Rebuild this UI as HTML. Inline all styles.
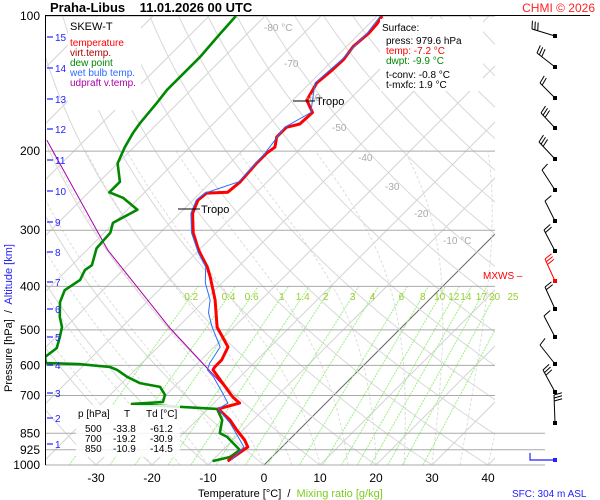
<!DOCTYPE html>
<html><head><meta charset="utf-8"><style>
body{margin:0;background:#fff;}
svg{display:block;font-family:"Liberation Sans",sans-serif;}
</style></head><body>
<svg id="c" width="600" height="500" xmlns="http://www.w3.org/2000/svg">
<defs><clipPath id="pc"><rect x="45" y="16" width="450" height="449"/></clipPath></defs>
<rect width="600" height="500" fill="#fff"/>
<g id="grid" clip-path="url(#pc)"></g>
<g id="isobars"></g>
<g id="series" clip-path="url(#pc)"></g>
<g id="labels"></g>
<g id="barbs"></g>
<g>
<line x1="45" y1="15.5" x2="590" y2="15.5" stroke="#000"/>
<line x1="45.5" y1="16" x2="45.5" y2="465" stroke="#000"/>
<polyline points="530,453 530,460 555,460" fill="none" stroke="#22f" stroke-width="1.2"/>
<rect x="553" y="458" width="4" height="4" fill="#22f"/>
<line x1="178" y1="209" x2="200" y2="209" stroke="#000"/><text x="201" y="213" font-size="11">Tropo</text>
<line x1="293" y1="101" x2="315" y2="101" stroke="#000"/><text x="316" y="105" font-size="11">Tropo</text>
</g>
<g><text x="50" y="12" font-size="13" font-weight="bold" xml:space="preserve">Praha-Libus    11.01.2026 00 UTC</text></g>
<text x="595" y="12" font-size="12" fill="#f22" text-anchor="end">CHMI © 2026</text>
<g>
<rect x="68" y="17" width="73" height="93" fill="#fff"/>
<text x="70" y="30" font-size="11">SKEW-T</text>
<text x="70" y="46" font-size="10" fill="#f00">temperature</text>
<text x="70" y="56" font-size="10" fill="#a00">virt.temp.</text>
<text x="70" y="66" font-size="10" fill="#080">dew point</text>
<text x="70" y="76" font-size="10" fill="#2a6cff">wet bulb temp.</text>
<text x="70" y="86" font-size="10" fill="#a0a">udpraft v.temp.</text>
</g>
<g>
<rect x="380" y="19" width="103" height="72" fill="#fff"/>
<text x="382" y="31" font-size="10">Surface:</text>
<text x="386" y="44" font-size="10">press: 979.6 hPa</text>
<text x="386" y="54" font-size="10" fill="#f00">temp: -7.2 °C</text>
<text x="386" y="64" font-size="10" fill="#080">dwpt: -9.9 °C</text>
<text x="386" y="78" font-size="10">t-conv: -0.8 °C</text>
<text x="386" y="88" font-size="10">t-mxfc: 1.9 °C</text>
</g>
<g>
<rect x="76" y="405" width="104" height="52" fill="#fff" opacity="0.85"/>
<text x="78" y="417" font-size="10">p [hPa]</text><text x="124" y="417" font-size="10">T</text><text x="146" y="417" font-size="10">Td [°C]</text>
<text x="85" y="432" font-size="10">500</text><text x="113" y="432" font-size="10">-33.8</text><text x="150" y="432" font-size="10">-61.2</text>
<text x="85" y="442" font-size="10">700</text><text x="113" y="442" font-size="10">-19.2</text><text x="150" y="442" font-size="10">-30.9</text>
<text x="85" y="452" font-size="10">850</text><text x="113" y="452" font-size="10">-10.9</text><text x="150" y="452" font-size="10">-14.5</text>
</g>
<text x="483" y="279" font-size="10" fill="#f00">MXWS –</text>
<text x="198" y="497" font-size="11" xml:space="preserve">Temperature [°C]  /  <tspan fill="#7ecb20">Mixing ratio [g/kg]</tspan></text>
<text x="512" y="497" font-size="10" fill="#22f">SFC: 304 m ASL</text>
<text transform="translate(12,392) rotate(-90)" font-size="11" xml:space="preserve">Pressure [hPa]  /  <tspan fill="#22f">Altitude [km]</tspan></text>
</svg>
<script>
const tempP=[980,912,880,836,794,750,728,706,614,605,584,546,493,429,381,362,337,329,304,275,257,248,247,234,213,202,196,186,177,174,164,154,141,133,125,117,109,104,100];
const tempT=[-7.2,-6.1,-7.9,-11.1,-14.1,-18.2,-15.4,-17.7,-26.1,-26.3,-26.3,-27.5,-33.0,-38.2,-43.2,-45.5,-49.3,-50.5,-54.1,-57.7,-59.1,-58.8,-55.2,-54.8,-55.2,-55.2,-54.8,-56.3,-56.3,-54.5,-54.3,-57.5,-58.8,-58.4,-58.2,-58.8,-58.4,-58.6,-59.1];
const dewP=[980,960,926,866,849,794,750,735,731,724,698,670,657,636,614,605,596,593,575,549,519,493,468,434,408,387,368,359,337,329,304,289,270,254,247,234,213,196,182,173,156,146,137,123,111,100];
const dewT=[-9.9,-7.5,-7.0,-11.6,-13.6,-15.5,-18.4,-31.6,-34.5,-29.3,-30.2,-32.5,-36.8,-40.2,-43.2,-45,-51.1,-57.1,-58.4,-57.9,-59.3,-60.7,-62.9,-65.5,-66.8,-65.9,-66.8,-66.4,-68.0,-68.6,-68.9,-70.2,-68.2,-72.9,-76.3,-76.3,-80,-81.6,-82.7,-83.2,-83.8,-84.3,-84.3,-84.3,-84.8,-85.2];
const wbP=[975,912,857,806,750,728,692,636,614,593,546,493,458,429,393,362,337,304,275,257,248,234,202,177,164,141,125,109,100];
const wbT=[-6.8,-6.8,-10.2,-13.6,-18.2,-17.5,-20.2,-24.8,-27.1,-27.9,-28.9,-33.9,-37.1,-39.1,-43.0,-45.8,-49.6,-54.4,-58.0,-59.4,-59.1,-55.1,-55.5,-56.6,-54.6,-59.1,-58.5,-58.7,-59.4];
const parP=[189,332,495,608,728];
const parT=[-96.8,-66.3,-41.3,-27.5,-15.4];
const pressureTicks=[100,200,300,400,500,600,700,850,925,1000];
const tempTicks=[-30,-20,-10,0,10,20,30,40];
const mixRatios=[0.2,0.4,0.6,1,1.4,2,3,4,6,8,10,12,14,17,20,25];
const altKm=[15,14,13,12,11,10,9,8,7,6,5,4,3,2,1];
const altY=[37,68,99,129,160,191,222,252,282,309,337,365,393,418,444];
const NS='http://www.w3.org/2000/svg';
function Y(p){return 16+449*Math.log10(p/100);}
function X(t,p){return 264+5.6*t+(465-Y(p));}
function mk(tag,attrs,parent){const e=document.createElementNS(NS,tag);for(const k in attrs)e.setAttribute(k,attrs[k]);parent.appendChild(e);return e;}
const grid=document.getElementById('grid'),iso=document.getElementById('isobars'),ser=document.getElementById('series'),lab=document.getElementById('labels'),brb=document.getElementById('barbs');
function pathFrom(ps,ts){return ps.map((p,i)=>(i?'L':'M')+X(ts[i],p).toFixed(1)+','+Y(p).toFixed(1)).join('');}
for(let t=-140;t<=40;t+=10){const e=mk('line',{x1:X(t,1000),y1:465,x2:X(t,100),y2:16,stroke:t===0?'#666':'#d4d4d4','stroke-width':1},grid);

}
for(let th=-40;th<=200;th+=10){let d='';for(let p=1000;p>=100;p-=10){const T=(th+273.15)*Math.pow(p/1000,0.2857)-273.15;d+=(p===1000?'M':'L')+X(T,p).toFixed(1)+','+Y(p).toFixed(1);}
const e=mk('path',{d:d,fill:'none',stroke:'#d8d8d8','stroke-width':1},grid);

}
function es(T){return 6.112*Math.exp(17.67*T/(T+243.5));}
for(let t0=-20;t0<=40;t0+=5){let T=t0,d='';for(let p=1000;p>=200;p-=5){d+=(p===1000?'M':'L')+X(T,p).toFixed(1)+','+Y(p).toFixed(1);const Tk=T+273.15,rs=0.622*es(T)/(p-es(T));const g=(287*Tk+2.5e6*rs)/(1004+2.5e6*2.5e6*rs*0.622/(287*Tk*Tk))/p;T-=g*5;}
const e=mk('path',{d:d,fill:'none',stroke:'#ddd','stroke-width':1,'stroke-dasharray':'3,2'},grid);

}
function tdw(w,p){const e=w*p/(622+w),l=Math.log(e/6.112);return 243.5*l/(17.67-l);}
mixRatios.forEach(w=>{const e=mk('line',{x1:X(tdw(w,1000),1000),y1:465,x2:X(tdw(w,400),400),y2:Y(400),stroke:'#9fef7f','stroke-width':1,'stroke-dasharray':'2,1'},grid);


const t=mk('text',{x:X(tdw(w,420),420),y:Y(420)+4,'font-size':10,fill:'#9acd32','text-anchor':'middle'},lab);t.textContent=String(w);

});
pressureTicks.forEach(p=>{const y=Y(p);const e=mk('line',{x1:45,y1:y,x2:p>=850?545:495,y2:y,stroke:'#aaa','stroke-width':1},iso);


const t=mk('text',{x:40,y:y+4,'font-size':12,'text-anchor':'end',fill:'#000'},lab);t.textContent=p;

});
tempTicks.forEach(v=>{const t=mk('text',{x:X(v,1000),y:482,'font-size':12,'text-anchor':'middle'},lab);t.textContent=v;

});
altKm.forEach((k,i)=>{const l=mk('line',{x1:47,y1:altY[i],x2:53,y2:altY[i],stroke:'#22f','stroke-width':1.2},lab);


const t=mk('text',{x:55,y:altY[i]+4,'font-size':10,fill:'#22f'},lab);t.textContent=k;

});
[[-80,27,' °C'],[-70,63,''],[-60,97,''],[-50,127,''],[-40,157,''],[-30,186,''],[-20,213,''],[-10,240,' °C']].forEach(a=>{const p=100*Math.pow(10,(a[1]-16)/449);const t=mk('text',{x:X(a[0],p)+10,y:a[1]+4,'font-size':10,fill:'#aaa'},lab);t.textContent=a[0]+a[2];

});
function line(ps,ts,c,w,n){const e=mk('path',{d:pathFrom(ps,ts),fill:'none',stroke:c,'stroke-width':w,'stroke-linejoin':'round'},ser);

}
line(parP,parT,'#a0a','1','updraft-virtual-temp-line');
line(dewP,dewT,'#080','2.6','dew-point-line');
line(tempP,tempT,'#f00','3','temperature-line');
line(wbP,wbT,'#2a6cff','1','wet-bulb-line');
const bases=[36,67,98,128,159,190,221,251,281,309,337,364,392,423];
const tips=[[532,29],[537,53],[540,83],[541,113],[539,142],[542,170],[545,201],[544,230],[545,259],[545,287],[544,316],[540,345],[543,370],[554,395]];
const nf=[3,3,2,3,3,1,1,2,3,2,1,1,3,3];
bases.forEach((y,i)=>{const g=mk('g',{},brb);


const [tx,ty]=tips[i],c=i===8?'#f00':'#000';mk('line',{x1:555,y1:y,x2:tx,y2:ty,stroke:c,'stroke-width':1},g);mk('rect',{x:553,y:y-2,width:4,height:4,fill:c},g);
const dx=tx-555,dy=ty-y,L=Math.hypot(dx,dy),ux=dx/L,uy=dy/L;for(let k=0;k<nf[i];k++){const bx=tx-ux*3*k,by=ty-uy*3*k;mk('line',{x1:bx,y1:by,x2:bx-uy*8+ux*2,y2:by+ux*8+uy*2,stroke:c,'stroke-width':1},g);}});
</script>
</body></html>
